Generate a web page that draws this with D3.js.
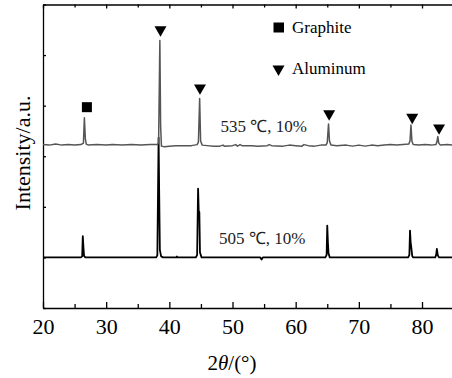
<!DOCTYPE html>
<html>
<head>
<meta charset="utf-8">
<script src="https://cdn.jsdelivr.net/npm/d3@7"></script>
<style>
  body { margin: 0; background: #fff; }
  svg { display: block; font-family: "Liberation Serif", "Times New Roman", serif; }
  .axis path, .axis line { stroke: #000; stroke-width: 1.3; }
  .axis text { font-family: "Liberation Serif", "Times New Roman", serif; }
</style>
</head>
<body>
<script>
const w = 452;
const h = 378;
const padLeft = 43, padTop = 4.5, padBottom = 308;
const xEnd = 453.6;

const xTicks = [20, 30, 40, 50, 60, 70, 80];
const xMinor = [25, 35, 45, 55, 65, 75, 85];
const yTicks = [0, 1, 2, 3, 4, 5, 6];

// [2theta, intensity]
const sample535 = [[20, 3.23], [21, 3.22], [22, 3.24], [23, 3.22], [24, 3.23], [25, 3.22], [26, 3.23],
  [26.4, 3.26], [26.55, 3.76], [26.7, 3.35], [26.85, 3.24], [27.2, 3.22], [28.5, 3.23], [30, 3.22],
  [31, 3.23], [32.5, 3.22], [34, 3.23], [35.5, 3.22], [37, 3.23], [38.1, 3.23], [38.3, 3.26],
  [38.5, 5.29], [38.62, 3.6], [38.75, 3.2], [39.2, 3.19], [40, 3.2], [41, 3.21], [43.5, 3.21],
  [44.4, 3.23], [44.6, 3.28], [44.8, 4.14], [44.95, 3.3], [45.2, 3.22], [46, 3.21], [47, 3.2],
  [48, 3.2], [48.5, 3.22], [48.7, 3.2], [50, 3.21], [50.5, 3.23], [50.8, 3.2], [51.2, 3.23],
  [51.5, 3.21], [53, 3.21], [54, 3.2], [55.5, 3.21], [55.8, 3.23], [56.2, 3.21], [58, 3.2],
  [59, 3.22], [60, 3.21], [61, 3.2], [61.3, 3.23], [62, 3.21], [63, 3.2], [64, 3.22], [64.8, 3.22],
  [65.0, 3.27], [65.2, 3.64], [65.35, 3.3], [65.6, 3.22], [66.5, 3.21], [68, 3.22], [69, 3.2],
  [70, 3.22], [71, 3.2], [72, 3.22], [73, 3.21], [74, 3.22], [75, 3.23], [76, 3.22], [77, 3.23],
  [77.9, 3.24], [78.1, 3.3], [78.25, 3.62], [78.4, 3.3], [78.6, 3.23], [79.5, 3.22], [80.5, 3.23],
  [81.5, 3.22], [82.2, 3.23], [82.35, 3.28], [82.5, 3.39], [82.65, 3.26], [82.9, 3.22], [84, 3.23],
  [85, 3.22]];

const sample505 = [[20, 1.0], [26.0, 1.0], [26.2, 1.02], [26.3, 1.42], [26.4, 1.2], [26.5, 1.03],
  [26.7, 1.0], [37.9, 1.0], [38.1, 1.04], [38.3, 3.37], [38.4, 2.2], [38.5, 1.15], [38.7, 1.02],
  [39, 1.0], [41.1, 1.0], [41.2, 1.02], [41.3, 1.0], [44.2, 1.0], [44.4, 1.05], [44.55, 2.36],
  [44.65, 1.92], [44.75, 1.9], [44.85, 1.1], [45.1, 1.0], [54.4, 1.0], [54.6, 0.96], [54.8, 1.0],
  [57.0, 1.0], [64.7, 1.0], [64.9, 1.05], [65.0, 1.63], [65.1, 1.3], [65.2, 1.08], [65.4, 1.0],
  [77.8, 1.0], [78.0, 1.05], [78.1, 1.53], [78.2, 1.3], [78.3, 1.2], [78.45, 1.03], [78.6, 1.0],
  [82.1, 1.0], [82.25, 1.06], [82.35, 1.17], [82.5, 1.04], [82.7, 1.0], [85, 1.0]];

const graphiteMarks = [[26.95, 3.97]];
const aluminumMarks = [[38.6, 5.5], [44.85, 4.35], [65.3, 3.84], [78.45, 3.77], [82.7, 3.56]];

const legendNames = ["Graphite", "Aluminum"];
const seriesNames = ["535 ℃, 10%", "505 ℃, 10%"];

const xScale = d3.scaleLinear().domain([20, 85]).range([padLeft, xEnd]);
const yScale = d3.scaleLinear().domain([0, 6]).range([padBottom, padTop]);

const svg = d3.select("body").append("svg")
  .attr("width", w)
  .attr("height", h);

// axes (ticks inward)
svg.append("g")
   .attr("class", "axis")
   .attr("transform", "translate(0," + padBottom + ")")
   .call(d3.axisBottom(xScale).tickValues(xTicks).tickSize(-6).tickPadding(10).tickSizeOuter(0))
   .call(g => g.attr("font-family", null).attr("font-size", 22))
   .call(g => g.selectAll("text").attr("fill", "#000").attr("dy", "0.72em"));

svg.append("g")
   .attr("class", "axis")
   .attr("transform", "translate(0," + padBottom + ")")
   .call(d3.axisBottom(xScale).tickValues(xMinor).tickSize(-4).tickFormat("").tickSizeOuter(0))
   .call(g => g.select(".domain").remove());

svg.append("g")
   .attr("class", "axis")
   .attr("transform", "translate(0," + padTop + ")")
   .call(d3.axisTop(xScale).tickValues(xTicks).tickSize(-4).tickFormat("").tickSizeOuter(0));

svg.append("g")
   .attr("class", "axis")
   .attr("transform", "translate(0," + padTop + ")")
   .call(d3.axisTop(xScale).tickValues(xMinor).tickSize(-3).tickFormat("").tickSizeOuter(0))
   .call(g => g.select(".domain").remove());

svg.append("g")
   .attr("class", "axis")
   .attr("transform", "translate(" + padLeft + ",0)")
   .call(d3.axisLeft(yScale).tickValues(yTicks).tickSize(-3).tickFormat("").tickSizeOuter(0));

// series
const line = d3.line()
  .x(d => xScale(d[0]))
  .y(d => yScale(d[1]));

svg.append("path")
   .datum(sample505)
   .attr("d", line)
   .attr("fill", "none")
   .attr("stroke", "#000")
   .attr("stroke-width", 1.8)
   .attr("stroke-linejoin", "round");

svg.append("path")
   .datum(sample535)
   .attr("d", line)
   .attr("fill", "none")
   .attr("stroke", "#555")
   .attr("stroke-width", 1.5)
   .attr("stroke-linejoin", "round");

// phase markers
const tri = d3.symbol().type(d3.symbolTriangle).size(62);

svg.selectAll(".al")
   .data(aluminumMarks)
   .enter()
   .append("path")
   .attr("class", "al")
   .attr("d", tri)
   .attr("transform", d => "translate(" + xScale(d[0]) + "," + yScale(d[1]) + ") rotate(180)")
   .attr("fill", "#000");

svg.selectAll(".gr")
   .data(graphiteMarks)
   .enter()
   .append("rect")
   .attr("class", "gr")
   .attr("x", d => xScale(d[0]) - 5)
   .attr("y", d => yScale(d[1]) - 5)
   .attr("width", 10)
   .attr("height", 10)
   .attr("fill", "#000");

// legend
svg.append("rect")
   .attr("x", 273.5)
   .attr("y", 22.5)
   .attr("width", 10.5)
   .attr("height", 10)
   .attr("fill", "#000");

svg.append("path")
   .attr("d", tri)
   .attr("transform", "translate(278.5,69) rotate(180)")
   .attr("fill", "#000");

svg.append("text")
   .attr("x", 292)
   .attr("y", 32.5)
   .attr("font-size", 17)
   .text(legendNames[0]);

svg.append("text")
   .attr("x", 292)
   .attr("y", 74)
   .attr("font-size", 17)
   .text(legendNames[1]);

// series labels
svg.append("text")
   .attr("x", 220.5)
   .attr("y", 131.5)
   .attr("font-size", 17)
   .attr("fill", "#222")
   .text(seriesNames[0]);

svg.append("text")
   .attr("x", 219)
   .attr("y", 244.3)
   .attr("font-size", 17)
   .attr("fill", "#222")
   .text(seriesNames[1]);

// axis titles
svg.append("text")
   .attr("transform", "translate(30,153) rotate(-90)")
   .attr("text-anchor", "middle")
   .attr("font-size", 22)
   .text("Intensity/a.u.");

const xt = svg.append("text")
   .attr("x", 232)
   .attr("y", 370)
   .attr("text-anchor", "middle")
   .attr("font-size", 21);
xt.append("tspan").text("2");
xt.append("tspan").attr("font-style", "italic").text("θ");
xt.append("tspan").text("/(°)");
</script>
</body>
</html>
